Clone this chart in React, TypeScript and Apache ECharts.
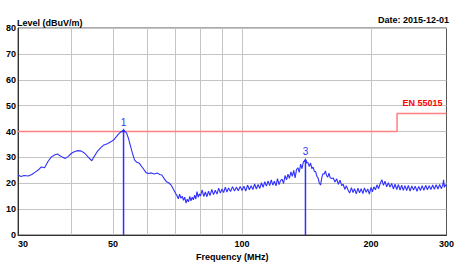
import React, { useEffect, useRef } from 'react';
import * as echarts from 'echarts';

const FONT = '"Liberation Sans", Arial, Helvetica, sans-serif';

const yMin = 0;
const yMax = 80;
const yInterval = 10;
const fMin = 30;
const fMax = 300;
const gridFreqs = [40, 50, 60, 70, 80, 90, 100, 200];
const labelFreqs = [30, 50, 100, 200, 300];

const limitFreqs = [30, 230, 230, 300];
const limitLevels = [40, 40, 47, 47];
const limitName = 'EN 55015';

const markerNames = ['1', '3'];
const markerFreqs = [52.9, 140.6];
const markerLevels = [40.5, 29.0];

const trace: [number, number][] = [
  [30.0, 23.2], [30.5, 22.6], [31.0, 23.0], [31.7, 22.8], [32.3, 23.4], [32.9, 24.3], [33.5, 25.2], [34.0, 26.3],
  [34.6, 26.0], [35.3, 28.6], [35.9, 30.2], [36.6, 31.0], [37.1, 31.3], [37.6, 30.6], [38.2, 30.0], [38.7, 29.6],
  [39.3, 30.4], [40.0, 31.6], [40.7, 32.3], [41.4, 32.6], [42.2, 32.4], [43.0, 31.5], [43.8, 30.0], [44.6, 28.7],
  [45.2, 30.4], [45.9, 32.2], [46.7, 33.6], [47.6, 34.8], [48.5, 35.3], [49.5, 36.1], [50.2, 36.8], [50.9, 38.0],
  [51.6, 39.2], [52.2, 39.9], [52.9, 40.5], [53.4, 40.0], [53.8, 39.3], [54.3, 37.4], [54.7, 35.4], [55.4, 32.0],
  [56.1, 29.0], [56.8, 28.1], [57.6, 27.7], [58.6, 26.0], [59.7, 24.1], [60.5, 23.8], [61.4, 24.0], [62.4, 23.6],
  [63.4, 24.0], [64.2, 23.4], [65.0, 23.2], [65.8, 21.8], [66.6, 20.6], [67.4, 20.2], [68.3, 19.3], [69.2, 17.6],
  [70.0, 16.0], [70.5, 15.2], [71.0, 14.0], [71.5, 15.8], [72.0, 14.2], [72.5, 15.0], [73.0, 13.4], [73.5, 14.6],
  [74.0, 12.3], [74.5, 13.8], [75.0, 12.8], [75.5, 14.9], [76.0, 13.2], [76.5, 14.6], [77.0, 13.6], [77.5, 15.4],
  [78.0, 13.9], [78.5, 16.8], [79.0, 14.6], [79.5, 15.9],
  [80.0, 15.1], [80.7, 17.4], [81.4, 14.9], [82.1, 16.6], [82.8, 14.8], [83.5, 16.9], [84.2, 15.2], [85.0, 17.6],
  [85.8, 15.6], [86.6, 17.3], [87.4, 15.8], [88.2, 18.1], [89.0, 16.2], [89.8, 17.8], [90.6, 16.4], [91.4, 18.5],
  [92.2, 16.6], [93.0, 18.2], [94.0, 16.8], [95.0, 18.7], [96.0, 17.0], [97.0, 18.5], [98.0, 17.1], [99.0, 18.8],
  [100.0, 17.2], [101.0, 18.9], [102.0, 17.0], [103.0, 19.3], [104.0, 17.5], [105.0, 19.0], [106.0, 17.6], [107.0, 19.7],
  [108.0, 17.8], [109.0, 19.5], [110.0, 18.0], [111.0, 20.2], [112.0, 18.4], [113.0, 20.6], [114.0, 18.9], [115.0, 20.9],
  [116.0, 19.1], [117.0, 21.3], [118.0, 19.3], [119.0, 20.8], [120.0, 19.0], [121.0, 21.8], [122.0, 19.5], [123.0, 21.0],
  [124.0, 21.6], [125.0, 19.9], [126.0, 23.0], [127.0, 21.3], [128.0, 23.5], [129.0, 21.9], [130.0, 24.4], [131.0, 22.7],
  [132.0, 25.0], [133.0, 22.1], [134.0, 25.3], [135.0, 26.0], [136.0, 24.2], [137.0, 27.4], [138.0, 25.6], [139.0, 28.2],
  [140.0, 28.8], [140.6, 29.0], [141.5, 27.8], [142.5, 28.0], [143.5, 26.5], [144.5, 27.8], [145.5, 25.7], [146.5, 26.2],
  [147.5, 24.6], [148.5, 24.5], [149.5, 22.7], [150.5, 22.0], [151.5, 20.0], [152.5, 19.3], [153.5, 22.2], [154.5, 23.7],
  [155.5, 23.6], [156.5, 24.8], [157.5, 22.9], [158.5, 22.4], [159.5, 23.9], [160.7, 22.0], [162.0, 21.8], [163.3, 22.0],
  [164.7, 20.5], [166.3, 21.7], [167.8, 19.6], [169.3, 21.2], [170.8, 19.1], [172.2, 19.6], [173.7, 17.6], [175.2, 19.0],
  [176.8, 17.4], [178.3, 16.2], [180.0, 18.3], [181.5, 16.4], [183.0, 17.9], [184.7, 15.9], [186.4, 18.1], [188.0, 16.3],
  [189.7, 17.9], [191.4, 16.0], [193.0, 18.2], [194.8, 16.5], [196.5, 17.8], [198.2, 15.8], [200.0, 18.4], [201.5, 16.7],
  [203.0, 18.6], [204.8, 17.5], [206.5, 19.4], [208.3, 17.9], [210.0, 19.8], [212.0, 21.4], [213.8, 19.2], [215.6, 20.8],
  [217.5, 18.6], [219.5, 20.2], [221.5, 18.5], [223.5, 19.9], [225.5, 17.8], [227.5, 19.6], [229.6, 17.6], [231.7, 19.5],
  [233.8, 17.4], [235.8, 19.3], [237.8, 17.3], [240.0, 19.1], [242.2, 17.2], [244.4, 19.2], [246.7, 17.0], [249.0, 19.0],
  [251.3, 17.4], [253.6, 18.9], [256.0, 16.9], [258.4, 18.8], [260.8, 17.2], [263.2, 19.1], [265.7, 17.3], [268.2, 19.2],
  [270.7, 17.5], [273.3, 19.0], [275.9, 17.6], [278.5, 19.3], [281.1, 17.7], [283.8, 19.4], [286.5, 17.8], [289.2, 19.5],
  [292.0, 17.9], [294.0, 19.3], [295.4, 21.3], [296.5, 18.4], [298.0, 19.4], [300.0, 18.8],
];

const lg = (f: number) => Math.log10(f);
const BLUE = '#3030ff';

export default function App() {
  const ref = useRef<HTMLDivElement>(null);

  useEffect(() => {
    document.body.style.margin = '0';
    if (!ref.current) return;
    const chart = echarts.init(ref.current, undefined, { renderer: 'svg' });

    const traceData = trace.map(([f, l]) => [lg(f), l]);
    const limitData = limitFreqs.map((f, i) => [lg(f), limitLevels[i]]);

    const markerSeries = markerNames.map((n, i) => ({
      type: 'line',
      name: 'marker ' + n,
      z: 5,
      showSymbol: true,
      silent: true,
      color: BLUE,
      lineStyle: { color: BLUE, width: 1.5 },
      itemStyle: { color: BLUE },
      data: [
        { value: [lg(markerFreqs[i]), yMin], symbol: 'none', symbolSize: 0, label: { show: false } },
        {
          value: [lg(markerFreqs[i]), markerLevels[i]],
          symbol: 'triangle',
          symbolSize: 4,
          label: {
            show: true,
            position: 'top',
            formatter: n,
            color: BLUE,
            fontSize: 10,
            fontFamily: FONT,
            distance: 1,
          },
        },
      ],
    }));

    chart.setOption({
      animation: false,
      backgroundColor: '#ffffff',
      grid: {
        left: 18,
        top: 28,
        right: 10,
        bottom: 39,
        show: true,
        borderColor: '#555555',
        borderWidth: 1,
        containLabel: false,
      },
      graphic: [
        {
          type: 'text',
          left: 17,
          top: 18,
          style: { text: 'Level (dBuV/m)', font: `bold 9px ${FONT}`, fill: '#000' },
        },
        {
          type: 'text',
          right: 8,
          top: 15.5,
          style: { text: 'Date: 2015-12-01', font: `bold 9px ${FONT}`, fill: '#000' },
        },
      ],
      xAxis: {
        type: 'value',
        min: lg(fMin),
        max: lg(fMax),
        name: 'Frequency (MHz)',
        nameLocation: 'middle',
        nameGap: 15,
        nameTextStyle: { fontSize: 9, fontWeight: 'bold', fontFamily: FONT, color: '#000' },
        axisLine: { show: true, lineStyle: { color: '#333', width: 1 } },
        axisTick: { show: false, customValues: gridFreqs.map(lg) },
        axisLabel: {
          customValues: labelFreqs.map(lg),
          formatter: (v: number) => String(Math.round(Math.pow(10, v))),
          fontSize: 9,
          fontWeight: 'bold',
          fontFamily: FONT,
          color: '#000',
          margin: 4,
          alignMinLabel: 'left',
          alignMaxLabel: 'center',
        },
        splitLine: { show: true, lineStyle: { color: '#c4c4c4', width: 1 } },
      },
      yAxis: {
        type: 'value',
        min: yMin,
        max: yMax,
        interval: yInterval,
        axisLine: { show: true, lineStyle: { color: '#333', width: 1 } },
        axisTick: { show: false },
        axisLabel: { fontSize: 9, fontWeight: 'bold', fontFamily: FONT, color: '#000', margin: 2 },
        splitLine: { show: true, lineStyle: { color: '#c4c4c4', width: 1 } },
      },
      series: [
        {
          type: 'line',
          data: limitData,
          showSymbol: false,
          symbol: 'none',
          lineStyle: { color: '#ff7f7f', width: 1.5 },
          z: 3,
          markPoint: {
            symbol: 'circle',
            symbolSize: 0,
            data: [
              {
                coord: [lg(limitFreqs[limitFreqs.length - 1]), limitLevels[limitLevels.length - 1]],
                label: {
                  show: true,
                  formatter: limitName,
                  position: 'top',
                  align: 'right',
                  offset: [-4, -1],
                  color: '#ff0000',
                  fontSize: 9,
                  fontWeight: 'bold',
                  fontFamily: FONT,
                },
              },
            ],
          },
        },
        {
          type: 'line',
          data: traceData,
          showSymbol: false,
          symbol: 'none',
          color: BLUE,
          lineStyle: { color: BLUE, width: 1.1 },
          z: 4,
        },
        ...markerSeries,
      ],
    });

    return () => chart.dispose();
  }, []);

  return <div ref={ref} style={{ width: 457, height: 274 }} />;
}
